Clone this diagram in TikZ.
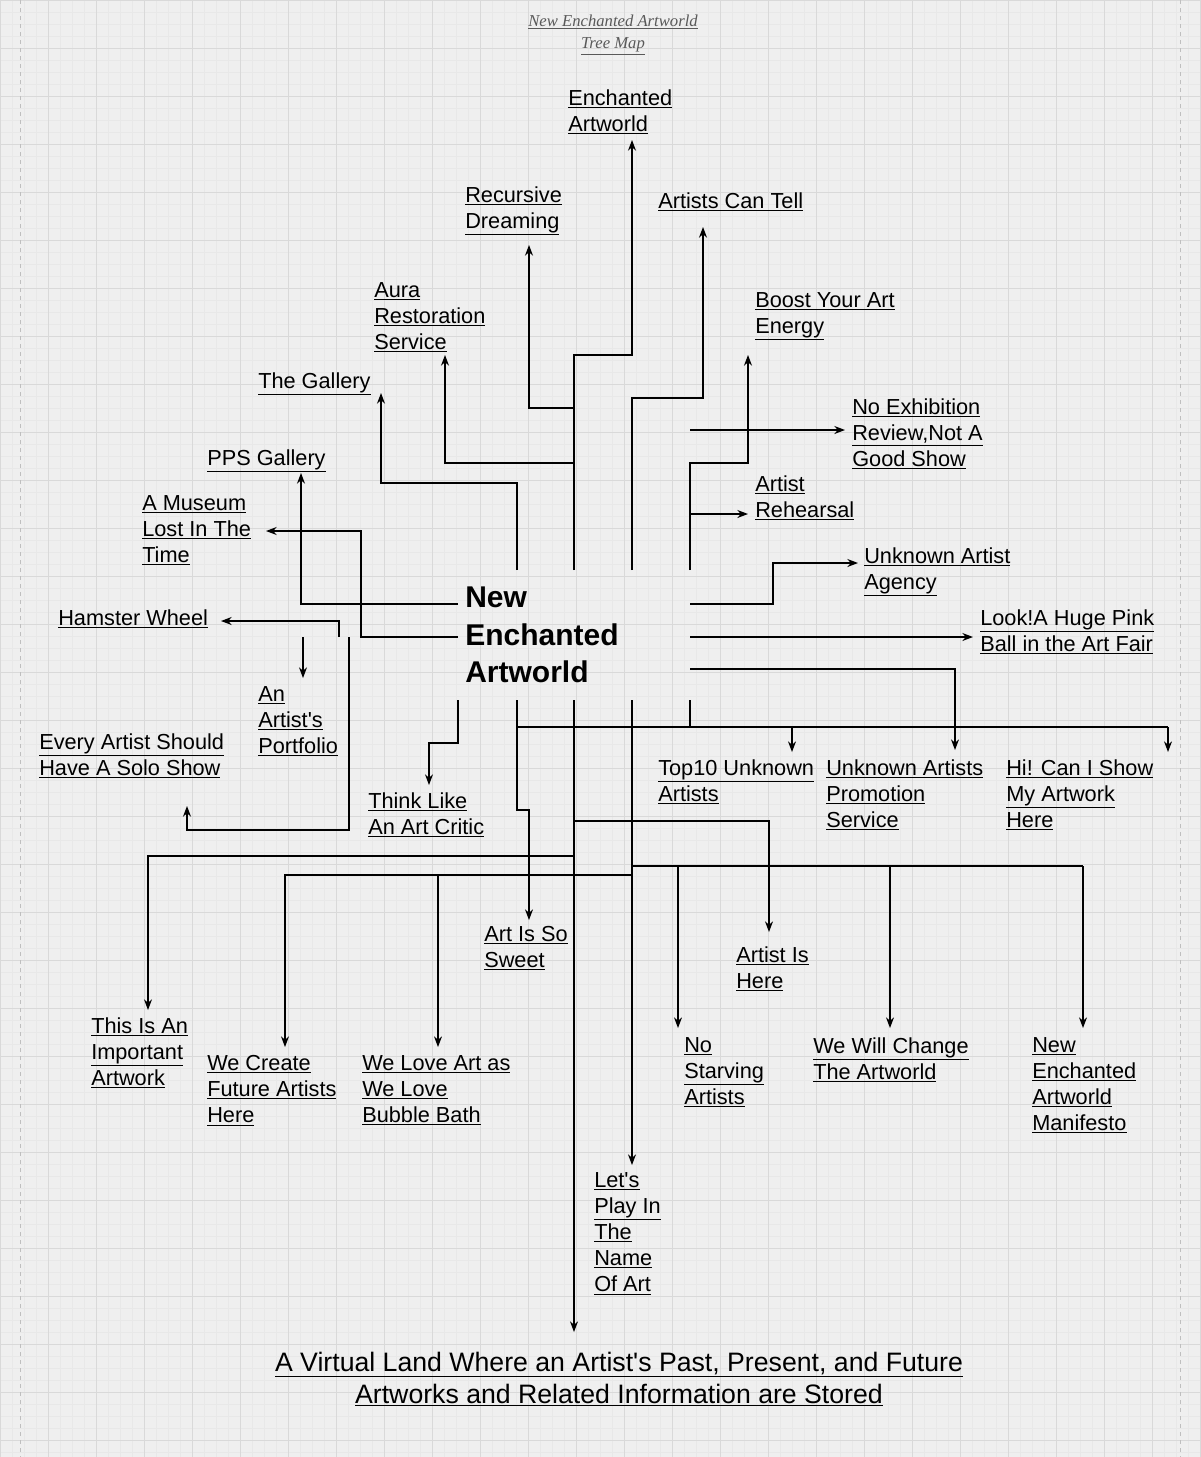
\documentclass[tikz,border=0pt]{standalone}
\usepackage{fontspec}
\setmainfont{Liberation Sans}[Ligatures=TeXOff]
\newfontfamily\titlefont{Liberation Serif}
\usetikzlibrary{arrows.meta}
\newcommand\U[1]{\underline{#1}}
\tikzset{
  lbl/.style={anchor=north west,inner sep=0pt,align=left,yshift=-3pt,font=\fontsize{16.3}{19.6}\selectfont},
  link/.style={line width=0.9pt,-{Stealth[length=8pt,width=6pt]}},
  wire/.style={line width=0.9pt}
}
\begin{document}
\begin{tikzpicture}[x=0.75pt,y=-0.75pt]
\useasboundingbox[fill={rgb,255:red,239;green,239;blue,239}] (0,0) rectangle (1200,1457);
% grid
\foreach \g in {0,12,...,1200} \draw[gray!18,line width=0.3pt] (\g,0) -- (\g,1457);
\foreach \g in {0,12,...,1457} \draw[gray!18,line width=0.3pt] (0,\g) -- (1200,\g);
\foreach \g in {0,48,...,1200} \draw[gray!30,line width=0.4pt] (\g,0) -- (\g,1457);
\foreach \g in {0,48,...,1457} \draw[gray!30,line width=0.4pt] (0,\g) -- (1200,\g);
\draw[gray!50,dashed] (20,0) -- (20,1457);
\draw[gray!50,dashed] (1180,0) -- (1180,1457);

% title
\node (title) at (613,35) [align=center,text=gray!70!black,font=\titlefont\itshape\fontsize{12.5}{16.5}\selectfont] {\U{New Enchanted Artworld}\\\U{Tree Map}};

% centre
\node (core) at (465,587) [anchor=north west,inner sep=0pt,align=left,font=\fontsize{22.5}{28}\selectfont\bfseries] {New\\Enchanted\\Artworld};

% labels
\node (ea)  at (568,85)   [lbl] {\U{Enchanted}\\\U{Artworld}};
\node (rd)  at (465,182)  [lbl] {\U{Recursive}\\\U{Dreaming}};
\node (act) at (658,188)  [lbl] {\U{Artists Can Tell}};
\node (ars) at (374,278)  [lbl] {\U{Aura}\\\U{Restoration}\\\U{Service}};
\node (bya) at (755,288)  [lbl] {\U{Boost Your Art}\\\U{Energy}};
\node (gal) at (258,368)  [lbl] {\U{The Gallery}};
\node (nex) at (852,394)  [lbl] {\U{No Exhibition}\\\U{Review,Not A}\\\U{Good Show}};
\node (pps) at (207,445)  [lbl] {\U{PPS Gallery}};
\node (reh) at (755,471)  [lbl] {\U{Artist}\\\U{Rehearsal}};
\node (mus) at (142,491)  [lbl] {\U{A Museum}\\\U{Lost In The}\\\U{Time}};
\node (uaa) at (864,543)  [lbl] {\U{Unknown Artist}\\\U{Agency}};
\node (ham) at (58,605)   [lbl] {\U{Hamster Wheel}};
\node (pnk) at (980,605)  [lbl] {\U{Look!A Huge Pink}\\\U{Ball in the Art Fair}};
\node (prt) at (258,682)  [lbl] {\U{An}\\\U{Artist's}\\\U{Portfolio}};
\node (solo) at (39,729)  [lbl] {\U{Every Artist Should}\\\U{Have A Solo Show}};
\node (top) at (658,755)  [lbl] {\U{Top10 Unknown}\\\U{Artists}};
\node (uap) at (826,755)  [lbl] {\U{Unknown Artists}\\\U{Promotion}\\\U{Service}};
\node (hi)  at (1006,755) [lbl] {\U{Hi! Can I Show}\\\U{My Artwork}\\\U{Here}};
\node (crit) at (368,788) [lbl] {\U{Think Like}\\\U{An Art Critic}};
\node (swt) at (484,922)  [lbl] {\U{Art Is So}\\\U{Sweet}};
\node (here) at (736,942) [lbl] {\U{Artist Is}\\\U{Here}};
\node (imp) at (91,1013)  [lbl] {\U{This Is An}\\\U{Important}\\\U{Artwork}};
\node (nsa) at (684,1033) [lbl] {\U{No}\\\U{Starving}\\\U{Artists}};
\node (chg) at (813,1033) [lbl] {\U{We Will Change}\\\U{The Artworld}};
\node (man) at (1032,1033) [lbl] {\U{New}\\\U{Enchanted}\\\U{Artworld}\\\U{Manifesto}};
\node (fut) at (207,1051) [lbl] {\U{We Create}\\\U{Future Artists}\\\U{Here}};
\node (bub) at (362,1051) [lbl] {\U{We Love Art as}\\\U{We Love}\\\U{Bubble Bath}};
\node (play) at (594,1168) [lbl] {\U{Let's}\\\U{Play In}\\\U{The}\\\U{Name}\\\U{Of Art}};
\node (land) at (619,1379) [align=center,font=\fontsize{20}{24}\selectfont] {\U{A Virtual Land Where an Artist's Past, Present, and Future}\\\U{Artworks and Related Information are Stored}};

% upper branches
\draw[link] (574,570) |- (632,355) -- (632,140);
\draw[link] (574,408) -| (529,245);
\draw[link] (632,570) |- (703,398) -- (703,227);
\draw[link] (690,570) |- (748,463) -- (748,355);
\draw[link] (690,430) -- (845,430);
\draw[link] (690,514) -- (748,514);
\draw[link] (690,604) -| (773,563) -- (858,563);
\draw[link] (690,637) -- (973,637);
\draw[link] (690,669) -| (955,750);
\draw[link] (517,570) |- (381,483) -- (381,393);
\draw[link] (574,463) -| (445,355);
% left branches
\draw[link] (458,604) -| (301,473);
\draw[link] (458,637) -| (361,531) -- (266,531);
\draw[link] (339,637) |- (221,621);
\draw[link] (303,637) -- (303,678);
\draw[link] (349,637) |- (187,830) -- (187,806);
\draw[link] (458,700) |- (429,743) -- (429,785);
% lower branches
\draw[wire] (517,700) |- (1168,727);
\draw[wire] (690,700) -- (690,727);
\draw[link] (792,727) -- (792,752);
\draw[link] (1168,727) -- (1168,752);
\draw[link] (517,727) |- (529,810) -- (529,920);
\draw[link] (574,821) -| (769,932);
\draw[link] (574,856) -| (148,1010);
\draw[link] (632,875) -| (285,1047);
\draw[link] (438,875) -- (438,1047);
\draw[wire] (632,866) -- (1083,866);
\draw[link] (678,866) -- (678,1028);
\draw[link] (890,866) -- (890,1028);
\draw[link] (1083,866) -- (1083,1028);
\draw[link] (632,700) -- (632,1165);
\draw[link] (574,700) -- (574,1332);
\end{tikzpicture}
\end{document}
